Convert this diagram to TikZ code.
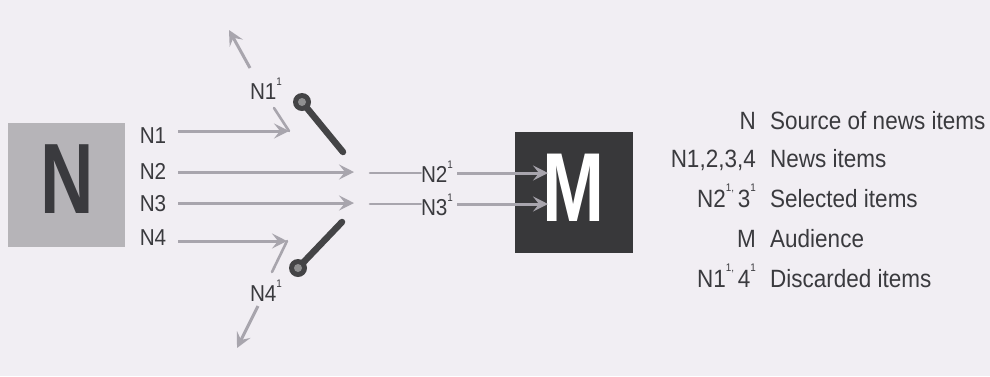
\documentclass[tikz,border=0pt]{standalone}
\usepackage{fontspec}
\setmainfont{Liberation Sans}
\usetikzlibrary{arrows.meta}
\definecolor{paper}{RGB}{241,238,243}
\definecolor{ink}{RGB}{58,58,62}
\definecolor{arrgray}{RGB}{168,165,173}
\definecolor{boxN}{RGB}{182,180,184}
\definecolor{boxM}{RGB}{56,56,58}
\definecolor{lever}{RGB}{68,68,70}
\newcommand{\supone}[1]{\raisebox{0.62em}{\fontsize{11}{11}\selectfont #1}}
\newcommand{\narrow}[1]{\scalebox{0.9}[1]{#1}}
\begin{document}
\begin{tikzpicture}[x=1pt,y=-1pt,
  lbl/.style={font=\fontsize{23}{23}\selectfont, text=ink, inner sep=0pt},
  leg/.style={font=\fontsize{25}{25}\selectfont, text=ink, inner sep=0pt},
  arr/.style={draw=arrgray, line width=3pt, -{Stealth[length=15pt,width=15pt,inset=6pt]}},
  seg/.style={draw=arrgray, line width=2.6pt, line cap=round},
  pivot/.style={circle, fill=lever, minimum size=18pt, inner sep=0pt},
  leverbar/.style={draw=lever, line width=6.5pt, line cap=round}
  ]
\fill[paper] (0,0) rectangle (990,376);
\useasboundingbox (0,0) rectangle (990,376);

% source box N
\node[fill=boxN, minimum width=117pt, minimum height=124pt, inner sep=0pt] (Nbox) at (66.5,185) {};
\node[text=ink, inner sep=0pt] (Nlet) at (67,179) {\scalebox{0.74}[1]{\fontsize{100}{100}\selectfont\bfseries N}};

% audience box M
\node[fill=boxM, minimum width=118pt, minimum height=121pt, inner sep=0pt] (Mbox) at (574,192.5) {};
\node[text=white, inner sep=0pt] (Mlet) at (573.5,188) {\scalebox{0.76}[1]{\fontsize{98}{98}\selectfont\bfseries M}};

% item labels
\node[lbl] (n1) at (153,136) {\narrow{N1}};
\node[lbl] (n2) at (153,171) {\narrow{N2}};
\node[lbl] (n3) at (153,204) {\narrow{N3}};
\node[lbl] (n4) at (153,238) {\narrow{N4}};

% named points
\coordinate (h1) at (289,131);
\coordinate (k1) at (274,108);
\coordinate (h2) at (354,172);
\coordinate (h3) at (354,203);
\coordinate (h4) at (287,241);
\coordinate (k4) at (272,272);
\coordinate (r2) at (370,173);
\coordinate (r3) at (370,204);
\coordinate (m2) at (548,173);
\coordinate (m3) at (548,204);
\coordinate (t1) at (250,68);
\coordinate (u1) at (229,30);
\coordinate (t4) at (258,306);
\coordinate (u4) at (237,348);

% discard / selected labels
\node[lbl] (d1) at (266,89) {\narrow{N1\supone{1}}};
\node[lbl] (d4) at (266,291) {\narrow{N4\supone{1}}};
\node[lbl] (s2) at (437,172) {\narrow{N2\supone{1}}};
\node[lbl] (s3) at (437,205) {\narrow{N3\supone{1}}};

% arrows
\draw[arr] ([xshift=12pt]n1.east |- h1) -- (h1);
\draw[seg] (h1) -- (k1);
\draw[arr] (t1) -- (u1);
\draw[arr] ([xshift=12pt]n2.east |- h2) -- (h2);
\draw[arr] ([xshift=12pt]n3.east |- h3) -- (h3);
\draw[arr] ([xshift=12pt]n4.east |- h4) -- (h4);
\draw[seg] (h4) -- (k4);
\draw[arr] (t4) -- (u4);
\draw[seg] (r2) -- (s2.west |- r2);
\draw[seg] (r3) -- (s3.west |- r3);
\draw[arr] ([xshift=4pt]s2.east |- m2) -- (m2);
\draw[arr] ([xshift=4pt]s3.east |- m3) -- (m3);

% gate switches
\node[pivot] (p1) at (302,102) {};
\node[pivot] (p4) at (298,268) {};
\coordinate (e1) at (343,152);
\coordinate (e4) at (342,222);
\draw[leverbar] (p1.center) -- (e1);
\draw[leverbar] (p4.center) -- (e4);
\fill[lever!60] (p1) circle (4pt);
\fill[lever!60] (p4) circle (4pt);

% legend
\node[leg, anchor=base east] (l1a) at (756,129) {\narrow{N}};
\node[leg, anchor=base west] (l1b) at (770,129) {\narrow{Source of news items}};
\node[leg, anchor=base east] (l2a) at (756,167) {\narrow{N1,2,3,4}};
\node[leg, anchor=base west] (l2b) at (770,167) {\narrow{News items}};
\node[leg, anchor=base east] (l3a) at (756,207) {\narrow{N2\supone{1,}\,3\supone{1}}};
\node[leg, anchor=base west] (l3b) at (770,207) {\narrow{Selected items}};
\node[leg, anchor=base east] (l4a) at (756,247) {\narrow{M}};
\node[leg, anchor=base west] (l4b) at (770,247) {\narrow{Audience}};
\node[leg, anchor=base east] (l5a) at (756,287) {\narrow{N1\supone{1,}\,4\supone{1}}};
\node[leg, anchor=base west] (l5b) at (770,287) {\narrow{Discarded items}};
\end{tikzpicture}
\end{document}
